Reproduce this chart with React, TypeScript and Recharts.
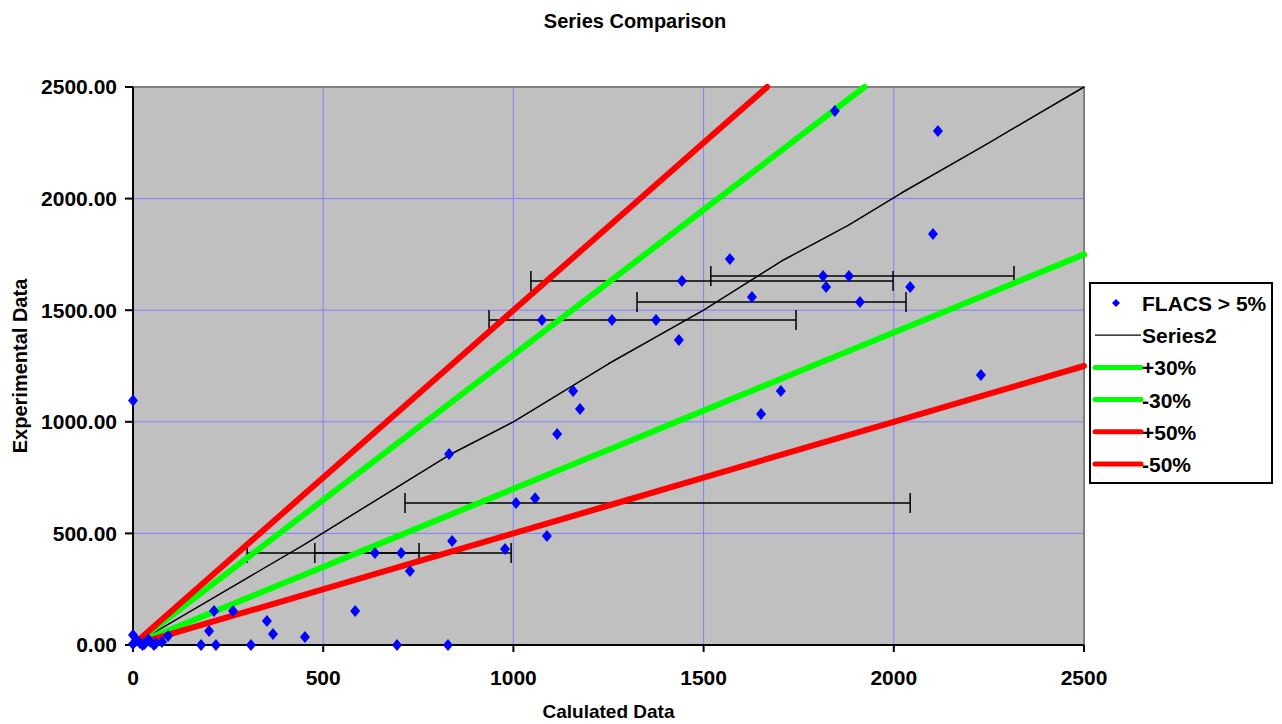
import { ScatterChart, Scatter, XAxis, YAxis, CartesianGrid, ErrorBar, ReferenceLine } from "recharts";

// FLACS > 5% points (calculated vs experimental)
const flacsX = [0, 1845, 2116, 2103, 1569, 1443, 1627, 1911, 1075, 1259, 1375, 1435, 1814, 1882, 1822, 2043, 2229, 1703, 1651, 1157, 1175, 1115, 831, 1007, 1057, 1088, 839, 978, 636, 705, 728, 584, 213, 263, 352, 200, 368, 452, 92, 76, 179, 218, 310, 694, 828, 0, 0, 18, 30, 45, 55, 40, 10, 60, 25];
const flacsY = [1095, 2392, 2303, 1841, 1729, 1631, 1559, 1537, 1456, 1456, 1456, 1366, 1653, 1653, 1604, 1604, 1210, 1138, 1035, 1138, 1057, 945, 856, 636, 658, 488, 466, 430, 412, 412, 332, 152, 152, 152, 108, 63, 49, 36, 40, 13, 0, 0, 0, 0, 0, 45, 5, 10, 5, 15, 0, 25, 20, 8, 0];
// horizontal error bars: index into the points, lower and upper extent
const errIndex = [5, 7, 9, 13, 23, 28, 29];
const errLow = [397, 586, 323, 363, 292, 336, 227];
const errHigh = [555, 121, 484, 434, 1036, 116, 289];

const series2X = [25, 200, 450, 830, 1000, 1250, 1500, 1710, 1880, 2020, 2250, 2500];
const series2Y = [25, 200, 450, 850, 1000, 1260, 1500, 1725, 1880, 2025, 2250, 2500];

const plus30X = [20, 200, 450, 700, 1000, 1250, 1500, 1750, 1923];
const plus30Y = [26, 260, 585, 910, 1300, 1625, 1950, 2275, 2500];
const plus50X = [20, 200, 450, 700, 1000, 1250, 1500, 1667];
const plus50Y = [30, 300, 675, 1050, 1500, 1875, 2250, 2500];
const minusX = [20, 200, 450, 700, 1000, 1250, 1500, 1750, 2000, 2250, 2500];
const minus30Y = [14, 140, 315, 490, 700, 875, 1050, 1225, 1400, 1575, 1750];
const minus50Y = [10, 100, 225, 350, 500, 625, 750, 875, 1000, 1125, 1250];

const axisTicks = [0, 500, 1000, 1500, 2000, 2500];

const font = '"Liberation Sans", Arial, sans-serif';

const flacsData = flacsX.map((x, i) => {
  const k = errIndex.indexOf(i);
  return { x, y: flacsY[i], err: k >= 0 ? [errLow[k], errHigh[k]] : undefined };
});
const toPoints = (xs: number[], ys: number[]) => xs.map((x, i) => ({ x, y: ys[i] }));

const Diamond = (props: any) => {
  const { cx, cy } = props;
  if (cx == null || cy == null) return <g />;
  return <polygon points={`${cx},${cy - 6} ${cx + 5},${cy} ${cx},${cy + 6} ${cx - 5},${cy}`} fill="#0000ff" />;
};
const NoShape = () => <g />;

const lineSeries = [
  { name: "Series2", data: toPoints(series2X, series2Y), color: "#000000", width: 1.5 },
  { name: "+30%", data: toPoints(plus30X, plus30Y), color: "#00ff00", width: 6 },
  { name: "-30%", data: toPoints(minusX, minus30Y), color: "#00ff00", width: 6 },
  { name: "+50%", data: toPoints(plus50X, plus50Y), color: "#ff0000", width: 6 },
  { name: "-50%", data: toPoints(minusX, minus50Y), color: "#ff0000", width: 6 },
];

const LegendBox = () => {
  const rows = [
    { label: "FLACS > 5%", kind: "dot", color: "#0000ff", width: 0 },
    ...lineSeries.map((s) => ({ label: s.name, kind: "line", color: s.color, width: s.width })),
  ];
  return (
    <div
      style={{
        position: "absolute",
        left: 1089,
        top: 282,
        width: 184,
        height: 202,
        border: "2px solid #000",
        background: "#fff",
        boxSizing: "border-box",
      }}
    >
      <svg width={180} height={198}>
        {rows.map((r, i) => {
          const cy = 19 + i * 32.2;
          return (
            <g key={r.label}>
              {r.kind === "dot" ? (
                <polygon points={`25,${cy - 4} 29,${cy} 25,${cy + 4} 21,${cy}`} fill={r.color} />
              ) : (
                <line
                  x1={4}
                  x2={50}
                  y1={cy}
                  y2={cy}
                  stroke={r.color}
                  strokeWidth={r.width === 6 ? 5 : 1.2}
                  strokeLinecap={r.width === 6 ? "round" : "butt"}
                />
              )}
              <text x={51} y={cy + 8} fontFamily={font} fontWeight="bold" fontSize={21} fill="#000">
                {r.label}
              </text>
            </g>
          );
        })}
      </svg>
    </div>
  );
};

export default function App() {
  return (
    <div style={{ position: "relative", width: 1282, height: 724, background: "#fff" }}>
      <style>{`body{margin:0}`}</style>
      <div
        style={{
          position: "absolute",
          left: 0,
          top: 10,
          width: 1270,
          textAlign: "center",
          fontFamily: font,
          fontWeight: "bold",
          fontSize: 20,
          lineHeight: "22px",
        }}
      >
        Series Comparison
      </div>
      <ScatterChart width={1282} height={724} margin={{ top: 87, right: 198, left: 0, bottom: 0 }}>
        <CartesianGrid stroke="#8080ff" fill="#c0c0c0" fillOpacity={1} />
        <XAxis
          type="number"
          dataKey="x"
          domain={[0, 2500]}
          ticks={axisTicks}
          height={79}
          axisLine={{ stroke: "#000", strokeWidth: 2 }}
          tickLine={{ stroke: "#000", strokeWidth: 2 }}
          tickSize={7}
          tickMargin={18}
          tick={{ fill: "#000", fontSize: 21, fontWeight: "bold", fontFamily: font }}
          label={{
            value: "Calulated Data",
            position: "insideBottom",
            offset: 6,
            style: { fill: "#000", fontSize: 19, fontWeight: "bold", fontFamily: font },
          }}
        />
        <YAxis
          type="number"
          dataKey="y"
          domain={[0, 2500]}
          ticks={axisTicks}
          width={133}
          axisLine={{ stroke: "#000", strokeWidth: 2 }}
          tickLine={{ stroke: "#000", strokeWidth: 2 }}
          tickSize={8}
          tickMargin={8}
          tickFormatter={(v: number) => v.toFixed(2)}
          tick={{ fill: "#000", fontSize: 21, fontWeight: "bold", fontFamily: font }}
          label={{
            value: "Experimental Data",
            angle: -90,
            position: "insideLeft",
            offset: 20,
            style: { fill: "#000", fontSize: 20, fontWeight: "bold", fontFamily: font, textAnchor: "middle" },
          }}
        />
        <ReferenceLine y={2500} stroke="#808080" strokeWidth={2} />
        <ReferenceLine x={2500} stroke="#808080" strokeWidth={2} />
        {lineSeries.map((s) => (
          <Scatter
            key={s.name}
            name={s.name}
            data={s.data}
            fill={s.color}
            line={{ stroke: s.color, strokeWidth: s.width, strokeLinejoin: "round", strokeLinecap: "round" }}
            lineType="joint"
            shape={NoShape}
            isAnimationActive={false}
          />
        ))}
        <Scatter name="FLACS > 5%" data={flacsData} fill="#0000ff" shape={Diamond} isAnimationActive={false}>
          <ErrorBar dataKey="err" direction="x" width={10} stroke="#000" strokeWidth={1.5} />
        </Scatter>
      </ScatterChart>
      <LegendBox />
    </div>
  );
}
